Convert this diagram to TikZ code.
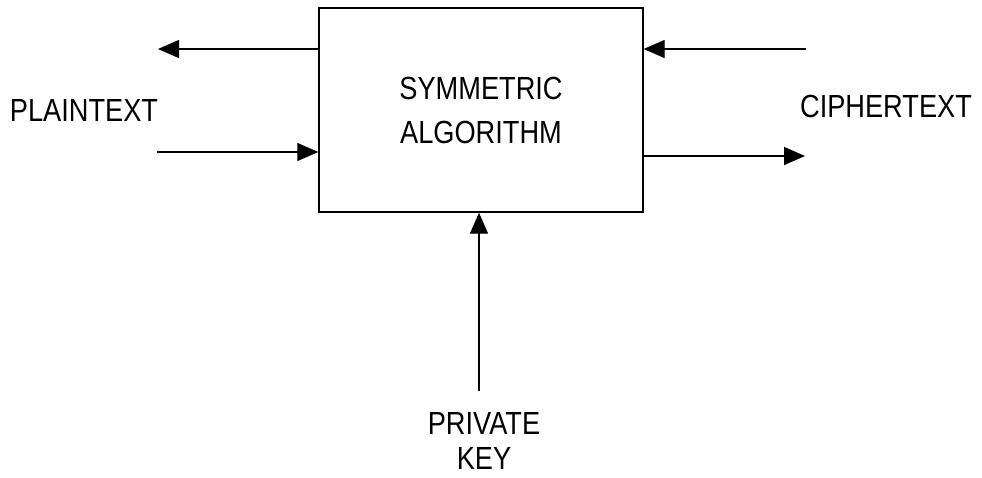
\documentclass[tikz,border=0pt]{standalone}
\usepackage{fontspec}
\setmainfont[FakeStretch=0.85]{Liberation Sans}
\usetikzlibrary{arrows.meta}
\begin{document}
\begin{tikzpicture}[x=1pt,y=-1pt,
  lbl/.style={inner sep=0pt,align=center},
  arr/.style={line width=1.4pt,-{Triangle[length=21pt,width=18pt]}},
  boxst/.style={draw,line width=1.4pt,minimum width=324pt,minimum height=204pt,inner sep=0pt,align=center}]
\useasboundingbox (0,0) rectangle (982,477);
\node[boxst,font=\fontsize{32}{44}\selectfont] (alg) at (481,110) {SYMMETRIC\\ALGORITHM};
\node[lbl,font=\fontsize{32}{35}\selectfont] (plain) at (84,110.5) {PLAINTEXT};
\node[lbl,font=\fontsize{32}{35}\selectfont] (cipher) at (886,106) {CIPHERTEXT};
\node[lbl,font=\fontsize{32}{35}\selectfont] (key) at (484,441) {PRIVATE\\KEY};
\coordinate (pout) at (158,49);
\coordinate (pin) at (157,152);
\coordinate (cin) at (806,49);
\coordinate (cout) at (805,156);
\coordinate (kin) at (479,391);
\draw[arr] (alg.west |- pout) -- (pout);
\draw[arr] (pin) -- (alg.west |- pin);
\draw[arr] (cin) -- (alg.east |- cin);
\draw[arr] (alg.east |- cout) -- (cout);
\draw[arr] (kin) -- (alg.south -| kin);
\end{tikzpicture}
\end{document}
